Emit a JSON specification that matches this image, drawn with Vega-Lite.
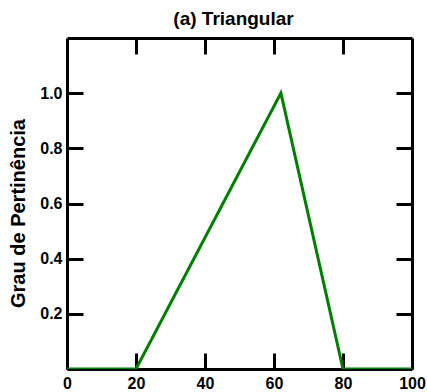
{
  "$schema": "https://vega.github.io/schema/vega-lite/v6.json",
  "autosize": {"type": "none"},
  "width": 345,
  "height": 331,
  "padding": {"left": 67, "top": 38, "right": 15, "bottom": 23},
  "title": {
    "text": "(a) Triangular",
    "font": "Liberation Sans",
    "fontSize": 19,
    "fontWeight": "bold",
    "color": "black",
    "anchor": "middle",
    "dx": -6,
    "offset": 8
  },
  "config": {
    "view": {"stroke": null},
    "axis": {
      "grid": false,
      "domainColor": "black",
      "domainWidth": 3,
      "tickColor": "black",
      "tickWidth": 3,
      "tickSize": -16,
      "labelFont": "Liberation Sans",
      "labelFontSize": 16,
      "labelFontWeight": "bold",
      "labelColor": "black",
      "titleFont": "Liberation Sans",
      "titleFontSize": 20,
      "titleFontWeight": "bold",
      "titleColor": "black"
    }
  },
  "data": {
    "values": [
      {"x": 0, "y": 0},
      {"x": 20, "y": 0},
      {"x": 62, "y": 1},
      {"x": 80, "y": 0},
      {"x": 100, "y": 0}
    ]
  },
  "layer": [
    {
      "mark": {"type": "line", "color": "#008000", "strokeWidth": 3, "clip": true},
      "encoding": {
        "x": {
          "field": "x", "type": "quantitative",
          "scale": {"domain": [0, 100], "nice": false},
          "axis": {"orient": "bottom", "title": null, "values": [0, 20, 40, 60, 80, 100], "labelPadding": 22, "labelFlush": false}
        },
        "y": {
          "field": "y", "type": "quantitative",
          "scale": {"domain": [0, 1.2], "nice": false},
          "axis": {"orient": "left", "title": "Grau de Pertinência", "values": [0.2, 0.4, 0.6, 0.8, 1.0], "format": ".1f", "labelPadding": 21, "titlePadding": 11, "titleY": 175}
        }
      }
    },
    {
      "mark": {"type": "line", "opacity": 0},
      "encoding": {
        "x": {
          "field": "x", "type": "quantitative",
          "axis": {"orient": "top", "title": null, "values": [20, 40, 60, 80], "labels": false}
        },
        "y": {
          "field": "y", "type": "quantitative",
          "axis": {"orient": "right", "title": null, "values": [0.2, 0.4, 0.6, 0.8, 1.0], "labels": false}
        }
      }
    }
  ],
  "resolve": {"axis": {"x": "independent", "y": "independent"}}
}
